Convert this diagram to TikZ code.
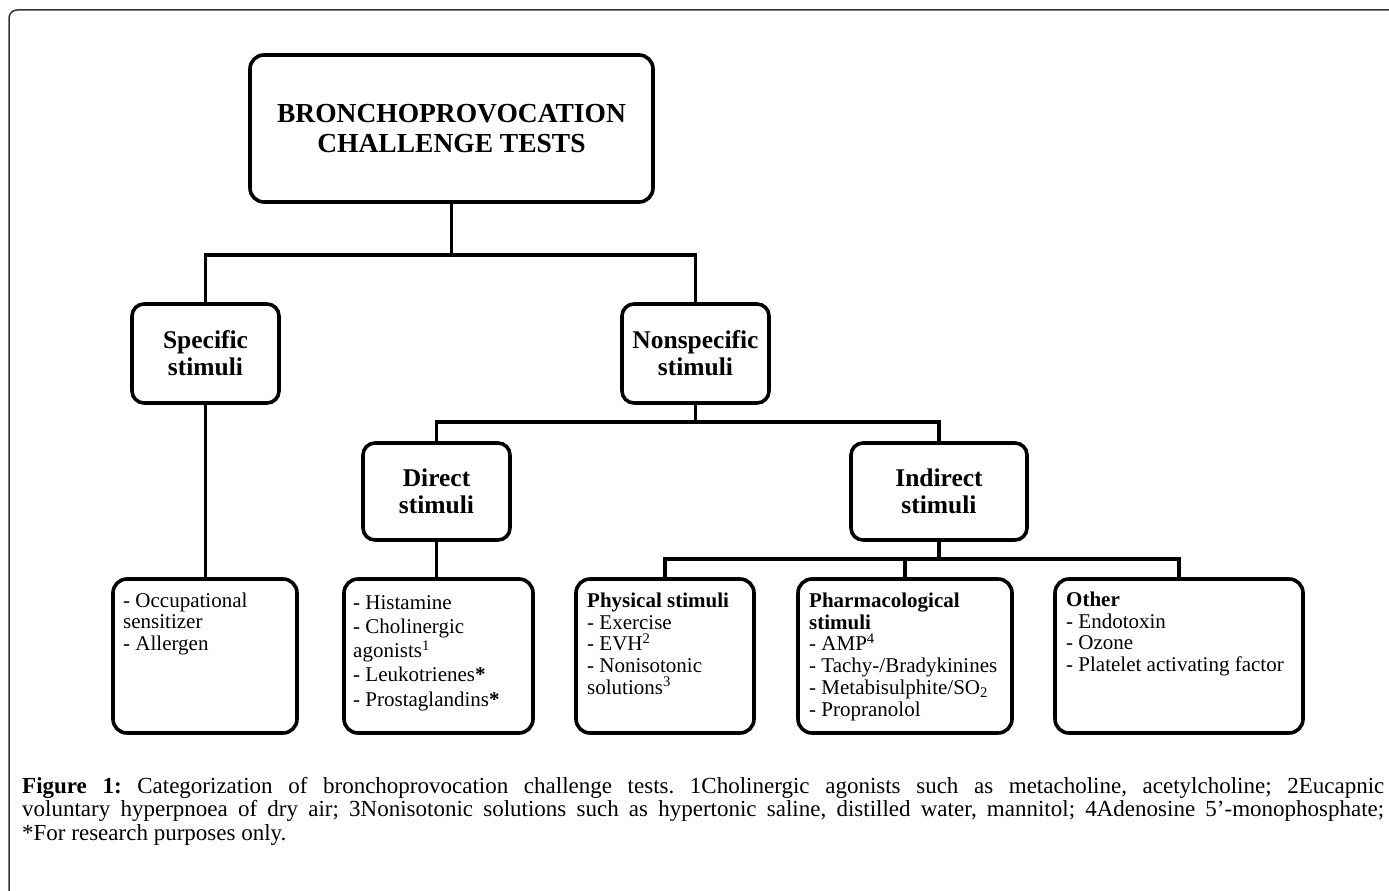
\documentclass[tikz,border=0pt]{standalone}
\usepackage{fontspec}
\setmainfont{Liberation Serif}
\newcommand{\firststrut}{\rule{0pt}{16pt}}
\newcommand{\capstrut}{\rule{0pt}{17pt}}
\frenchspacing
\begin{document}
\begin{tikzpicture}[
  x=1pt, y=-1pt,
  boxline/.style={draw=black, line width=3.6pt, rounded corners=12pt, inner sep=0pt},
  midbox/.style={boxline, align=center, font=\fontsize{25.5}{27}\selectfont\bfseries},
  leafbox/.style={boxline, rounded corners=14pt, minimum height=154pt},
  leaftext/.style={anchor=north west, inner sep=0pt, align=left, font=\fontsize{21}{21.8}\selectfont},
  conn/.style={line width=3.6pt},
]
\useasboundingbox (0,0) rectangle (1389,891);
\fill[white] (0,0) rectangle (1389,891);
% outer frame
\draw[line width=1.5pt, black!80, rounded corners=8pt] (9,891) -- (9,10) -- (1389,10);

% boxes
\node[boxline, rounded corners=14pt, minimum width=403pt, minimum height=147pt, align=center,
      font=\fontsize{27.5}{30}\selectfont\bfseries] (title) at (451.5,128.5) {BRONCHOPROVOCATION\\CHALLENGE TESTS};
\node[midbox, minimum width=147pt, minimum height=99pt] (spec) at (205.5,353.5) {Specific\\stimuli};
\node[midbox, minimum width=147pt, minimum height=99pt] (nons) at (695.5,353.5) {Nonspecific\\stimuli};
\node[midbox, minimum width=147pt, minimum height=97pt] (direct) at (436.5,491.5) {Direct\\stimuli};
\node[midbox, minimum width=176pt, minimum height=97pt] (indirect) at (939,491.5) {Indirect\\stimuli};

\node[leafbox, minimum width=184pt] (leafA) at (205,656) {};
\node[leafbox, minimum width=189pt] (leafB) at (438.5,656) {};
\node[leafbox, minimum width=178pt] (leafC) at (665,656) {};
\node[leafbox, minimum width=214pt] (leafD) at (905,656) {};
\node[leafbox, minimum width=248pt] (leafE) at (1179,656) {};

% leaf texts
\node[leaftext, font=\fontsize{21}{21.5}\selectfont] (txtA) at (123,591)
  {\firststrut- Occupational\\sensitizer\\- Allergen};
\node[leaftext, font=\fontsize{21}{24.2}\selectfont] (txtB) at (353,593)
  {\firststrut- Histamine\\- Cholinergic\\agonists\textsuperscript{1}\\- Leukotrienes\textbf{*}\\- Prostaglandins\textbf{*}};
\node[leaftext] (txtC) at (587,591)
  {\firststrut\textbf{Physical stimuli}\\- Exercise\\- EVH\textsuperscript{2}\\- Nonisotonic\\solutions\textsuperscript{3}};
\node[leaftext] (txtD) at (809,591)
  {\firststrut\textbf{Pharmacological}\\\textbf{stimuli}\\- AMP\textsuperscript{4}\\- Tachy-/Bradykinines\\- Metabisulphite/SO\textsubscript{2}\\- Propranolol};
\node[leaftext] (txtE) at (1066,590)
  {\firststrut\textbf{Other}\\- Endotoxin\\- Ozone\\- Platelet activating factor};

% connectors
\coordinate (j1) at (452,255);
\draw[conn] (title.south) -- (title.south |- j1);
\draw[conn] (spec.north) -- (spec.north |- j1) -- (nons.north |- j1) -- (nons.north);
\coordinate (j2) at (695,422);
\draw[conn] (nons.south) -- (nons.south |- j2);
\draw[conn] (direct.north) -- (direct.north |- j2) -- (indirect.north |- j2) -- (indirect.north);
\draw[conn] (spec.south) -- (spec.south |- leafA.north);
\draw[conn] (direct.south) -- (direct.south |- leafB.north);
\coordinate (j3) at (939,559);
\draw[conn] (indirect.south) -- (indirect.south |- j3);
\draw[conn] (leafC.north) -- (leafC.north |- j3) -- (leafE.north |- j3) -- (leafE.north);
\draw[conn] (leafD.north) -- (leafD.north |- j3);

% caption
\node[anchor=north west, inner sep=0pt, align=left, font=\fontsize{23}{23.5}\selectfont] (caption) at (22,776)
  {\capstrut\makebox[1362pt][s]{\textbf{Figure 1:} Categorization of bronchoprovocation challenge tests. 1Cholinergic agonists such as metacholine, acetylcholine; 2Eucapnic}\\
   \makebox[1362pt][s]{voluntary hyperpnoea of dry air; 3Nonisotonic solutions such as hypertonic saline, distilled water, mannitol; 4Adenosine 5’-monophosphate;}\\
   {*}For research purposes only.};
\end{tikzpicture}
\end{document}
